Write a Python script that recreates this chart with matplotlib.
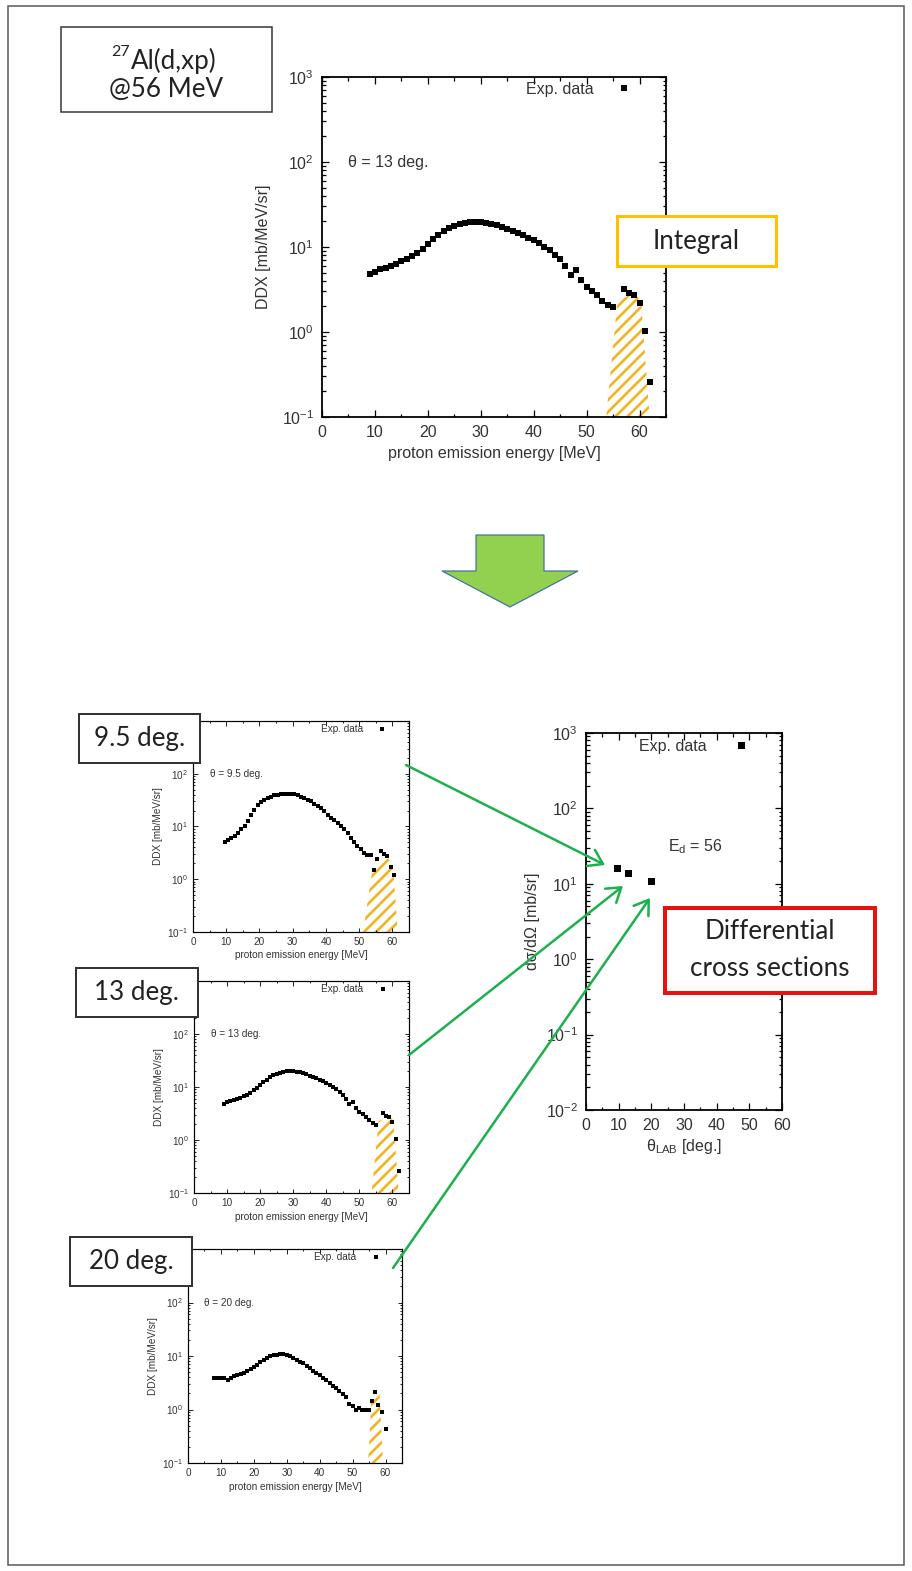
import numpy as np
import matplotlib.pyplot as plt
from matplotlib.patches import Rectangle, Polygon, FancyArrowPatch
from matplotlib.transforms import Affine2D
from matplotlib.ticker import MultipleLocator, LogLocator, NullFormatter, FuncFormatter

# ==========================================
# Données
# ==========================================
# theta = 13 deg (grand graphe + petit graphe du milieu)
e13 = [9, 10, 11, 12, 13, 14, 15, 16, 17, 18, 19, 20, 21, 22, 23, 24, 25, 26,
       27, 28, 29, 30, 31, 32, 33, 34, 35, 36, 37, 38, 39, 40, 41, 42, 43, 44,
       45, 46, 47, 48, 49, 50, 51, 52, 53, 54, 55, 57, 58, 59, 60, 61, 62]
ddx13 = [4.8, 5.1, 5.5, 5.7, 5.9, 6.3, 6.8, 7.2, 7.8, 8.6, 9.6, 10.8, 12.3, 13.8,
         15.4, 16.7, 17.8, 18.7, 19.3, 19.7, 19.9, 19.7, 19.3, 18.8, 18.2, 17.4,
         16.4, 15.6, 14.6, 13.8, 12.9, 12.0, 11.0, 10.1, 9.1, 8.1, 7.2, 6.0, 4.7,
         5.3, 4.1, 3.4, 3.06, 2.7, 2.34, 2.08, 1.95, 3.18, 2.85, 2.72, 2.21, 1.04,
         0.256]
hatch13_x = [53.7, 55.8, 58.0, 59.6, 60.3, 61.9]
hatch13_y = [0.1, 2.25, 2.7, 2.6, 2.3, 0.1]

# theta = 9.5 deg
e95 = [9.5, 10.5, 11.5, 12.5, 13.5, 14.5, 15.5, 16.5, 17.5, 18.5, 19.5, 20.5,
       21.5, 22.5, 23.5, 24.5, 25.5, 26.5, 27.5, 28.5, 29.5, 30.5, 31.5, 32.5,
       33.5, 34.5, 35.5, 36.5, 37.5, 38.5, 39.5, 40.5, 41.5, 42.5, 43.5, 44.5,
       45.5, 46.5, 47.5, 48.5, 49.5, 50.5, 51.5, 52.5, 53.5, 54.5, 55.5, 56.5,
       57.5, 58.5, 59.5, 60.5]
ddx95 = [5.0, 5.6, 6.0, 6.7, 7.5, 9.0, 10.4, 12.9, 16.8, 20.8, 25.2, 29, 32, 35,
         37, 39, 40, 41, 41, 42, 42, 41, 39, 37, 35, 32, 30, 27, 24.8, 22, 19.4,
         16.8, 14.5, 13.1, 11.6, 10.4, 9.0, 7.5, 6.0, 5.0, 4.3, 3.7, 3.2, 2.87,
         2.9, 1.47, 2.4, 3.5, 3.0, 2.7, 1.7, 1.2]
hatch95_x = [51.2, 54.2, 56.7, 58.7, 60.2, 61.6]
hatch95_y = [0.1, 1.9, 2.7, 2.5, 1.75, 0.1]

# theta = 20 deg
e20 = [8, 9, 10, 11, 12, 13, 14, 15, 16, 17, 18, 19, 20, 21, 22, 23, 24, 25, 26,
       27, 28, 29, 30, 31, 32, 33, 34, 35, 36, 37, 38, 39, 40, 41, 42, 43, 44,
       45, 46, 47, 48, 49, 50, 51, 52, 53, 54, 55, 56, 56.7, 57.7, 58.8, 60]
ddx20 = [3.9, 3.9, 3.9, 3.85, 3.6, 3.9, 4.17, 4.35, 4.55, 4.8, 5.2, 5.6, 6.2,
         6.9, 7.7, 8.5, 9.3, 9.9, 10.3, 10.6, 10.7, 10.7, 10.4, 9.9, 9.2, 8.4,
         7.8, 7.3, 6.6, 5.9, 5.3, 4.8, 4.35, 3.9, 3.5, 3.1, 2.8, 2.5, 2.2, 1.95,
         1.71, 1.29, 1.15, 0.99, 1.08, 0.96, 0.99, 0.96, 1.44, 2.12, 1.2, 0.9,
         0.43]
hatch20_x = [54.7, 55.7, 57.2, 58.2, 59.2]
hatch20_y = [0.1, 1.5, 2.05, 1.9, 0.1]

# Sections efficaces différentielles
theta_lab = [9.5, 13, 20]
dsigma = [16.4, 14.0, 11.0]

# ==========================================
# Mise en page (pixels, origine en haut à gauche)
# ==========================================
W, H = 912, 1571
DPI = 72
TXT = '#333333'
HATCH = '#F5B21A'
GREEN = '#1DB04E'

plt.rcParams['font.family'] = ['Liberation Sans', 'DejaVu Sans']
plt.rcParams['mathtext.fontset'] = 'custom'
plt.rcParams['mathtext.rm'] = 'Liberation Sans'
plt.rcParams['mathtext.it'] = 'Liberation Sans:italic'
plt.rcParams['axes.unicode_minus'] = False
plt.rcParams['hatch.linewidth'] = 2.6

fig = plt.figure(figsize=(W / DPI, H / DPI), dpi=DPI)
px = Affine2D().scale(1 / W, -1 / H).translate(0, 1) + fig.transFigure


def add_ax(l, t, r, b):
    return fig.add_axes([l / W, 1 - b / H, (r - l) / W, (b - t) / H])


def log_label(v, pos, hide_top=False):
    if hide_top and v >= 999:
        return ''
    return '$\\mathregular{10^{%d}}$' % int(round(np.log10(v)))


def style_axes(ax, fs, tl, lw, hide_top=False):
    ax.yaxis.set_major_locator(LogLocator(base=10))
    ax.yaxis.set_major_formatter(FuncFormatter(lambda v, p: log_label(v, p, hide_top)))
    ax.yaxis.set_minor_locator(LogLocator(base=10, subs=np.arange(2, 10)))
    ax.yaxis.set_minor_formatter(NullFormatter())
    ax.xaxis.set_minor_locator(MultipleLocator(5))
    ax.tick_params(which='both', direction='in', top=True, right=True,
                   labelsize=fs, labelcolor=TXT, width=lw * 0.7, pad=fs * 0.5)
    ax.tick_params(which='major', length=tl)
    ax.tick_params(which='minor', length=tl * 0.5)
    for s in ax.spines.values():
        s.set_linewidth(lw)


def ddx_panel(ax, e, v, hx, hy, label, fs, ms, tl, lw, ypad, hide_top):
    ax.fill(hx, hy, facecolor='none', edgecolor=HATCH, lw=0, hatch='//')
    ax.plot(e, v, 's', color='black', ms=ms, mew=0, label='Exp. data')
    ax.set_yscale('log')
    ax.set_ylim(0.1, 1000)
    ax.set_xlim(0, 65)
    ax.set_xticks(range(0, 61, 10))
    style_axes(ax, fs, tl, lw, hide_top)
    ax.set_xlabel('proton emission energy [MeV]', fontsize=fs, color=TXT,
                  labelpad=fs * 0.35)
    ax.set_ylabel('DDX [mb/MeV/sr]', fontsize=fs, color=TXT, labelpad=ypad)
    ax.text(5, 100, label, fontsize=fs, color=TXT, va='center')
    ax.legend(loc='upper right', bbox_to_anchor=(0.90, 0.985), frameon=False,
              markerfirst=False, fontsize=fs, handlelength=1.0,
              handletextpad=1.4, borderpad=0, borderaxespad=0,
              labelcolor=TXT)


# Grand graphe (13 deg)
ax_main = add_ax(322, 77, 666, 417)
ddx_panel(ax_main, e13, ddx13, hatch13_x, hatch13_y, 'θ = 13 deg.',
          16, 5.5, 7, 1.8, 11, False)

# Petits graphes (le 10^3 est caché sous les étiquettes)
ax_s1 = add_ax(193, 721, 409, 932)
ddx_panel(ax_s1, e95, ddx95, hatch95_x, hatch95_y, 'θ = 9.5 deg.',
          10, 3.6, 4.5, 1.2, 4, True)
ax_s2 = add_ax(194, 981, 409, 1193)
ddx_panel(ax_s2, e13, ddx13, hatch13_x, hatch13_y, 'θ = 13 deg.',
          10, 3.6, 4.5, 1.2, 4, True)
ax_s3 = add_ax(188, 1249, 402, 1463)
ddx_panel(ax_s3, e20, ddx20, hatch20_x, hatch20_y, 'θ = 20 deg.',
          10, 3.6, 4.5, 1.2, 4, True)

# Graphe des sections efficaces
ax_r = add_ax(586, 733, 782, 1110)
ax_r.plot(theta_lab, dsigma, 's', color='black', ms=7, mew=0, label='Exp. data')
ax_r.set_yscale('log')
ax_r.set_ylim(0.01, 1000)
ax_r.set_xlim(0, 60)
ax_r.set_xticks(range(0, 61, 10))
style_axes(ax_r, 16, 7, 1.8)
ax_r.set_xlabel('θ$_{\\mathregular{LAB}}$ [deg.]', fontsize=16, color=TXT,
                labelpad=4)
ax_r.set_ylabel('dσ/dΩ [mb/sr]', fontsize=16, color=TXT, labelpad=6)
ax_r.text(25, 31, 'E$_{\\mathregular{d}}$ = 56', fontsize=16, color=TXT,
          va='center')
ax_r.legend(loc='upper right', bbox_to_anchor=(0.83, 0.985), frameon=False,
            markerfirst=False, fontsize=16, handlelength=1.0,
            handletextpad=1.6, borderpad=0, borderaxespad=0, labelcolor=TXT)

# ==========================================
# Annotations (boîtes, flèches)
# ==========================================
def box(l, t, r, b, ec, lw):
    fig.add_artist(Rectangle((l, t), r - l, b - t, transform=px,
                             facecolor='white', edgecolor=ec, lw=lw, zorder=5))


BOXFONT = ['Lato', 'DejaVu Sans']

# cadre général
fig.add_artist(Rectangle((8, 6), 896, 1559, transform=px, facecolor='none',
                         edgecolor='#555555', lw=1.5))

box(61, 27, 272, 112, '#333333', 1.5)
fig.text(131 / W, 1 - 61 / H, 'Al(d,xp)', family=BOXFONT, fontsize=26,
         ha='left', va='center', color='#222222', zorder=6)
fig.text(130 / W, 1 - 52 / H, '27', family=BOXFONT, fontsize=16,
         ha='right', va='center', color='#222222', zorder=6)
fig.text(166 / W, 1 - 89 / H, '@56 MeV', family=BOXFONT, fontsize=26,
         ha='center', va='center', color='#222222', zorder=6)

box(617, 216, 776, 266, '#FFC000', 3)
fig.text(696 / W, 1 - 241 / H, 'Integral', family=BOXFONT, fontsize=26,
         ha='center', va='center', color='#222222', zorder=6)

for (l, t, r, b), lab in zip([(79, 714, 200, 763), (76, 968, 198, 1017),
                              (70, 1237, 192, 1286)],
                             ['9.5 deg.', '13 deg.', '20 deg.']):
    box(l, t, r, b, '#333333', 2)
    fig.text((l + r) / 2 / W, 1 - (t + b) / 2 / H, lab, family=BOXFONT,
             fontsize=26, ha='center', va='center', color='#222222', zorder=6)

box(665, 908, 875, 993, '#E81010', 4)
fig.text(770 / W, 1 - 932 / H, 'Differential', family=BOXFONT, fontsize=26,
         ha='center', va='center', color='#222222', zorder=6)
fig.text(770 / W, 1 - 968 / H, 'cross sections', family=BOXFONT, fontsize=26,
         ha='center', va='center', color='#222222', zorder=6)

# grosse flèche verte
fig.add_artist(Polygon([(476, 535), (544, 535), (544, 571), (578, 571),
                        (510, 607), (442, 571), (476, 571)], closed=True,
                       transform=px, facecolor='#92D050', edgecolor='#41719C',
                       lw=1.2))

# flèches vers les points
for a, b in [((406, 765), (605, 865)), ((409, 1055), (623, 886)),
             ((393, 1268), (650, 898))]:
    fig.add_artist(FancyArrowPatch(a, b, transform=px,
                                   arrowstyle='->,head_length=0.45,head_width=0.3',
                                   mutation_scale=30, color=GREEN, lw=2.5,
                                   shrinkA=0, shrinkB=0, zorder=7))

fig.savefig('out.png', dpi=DPI)
